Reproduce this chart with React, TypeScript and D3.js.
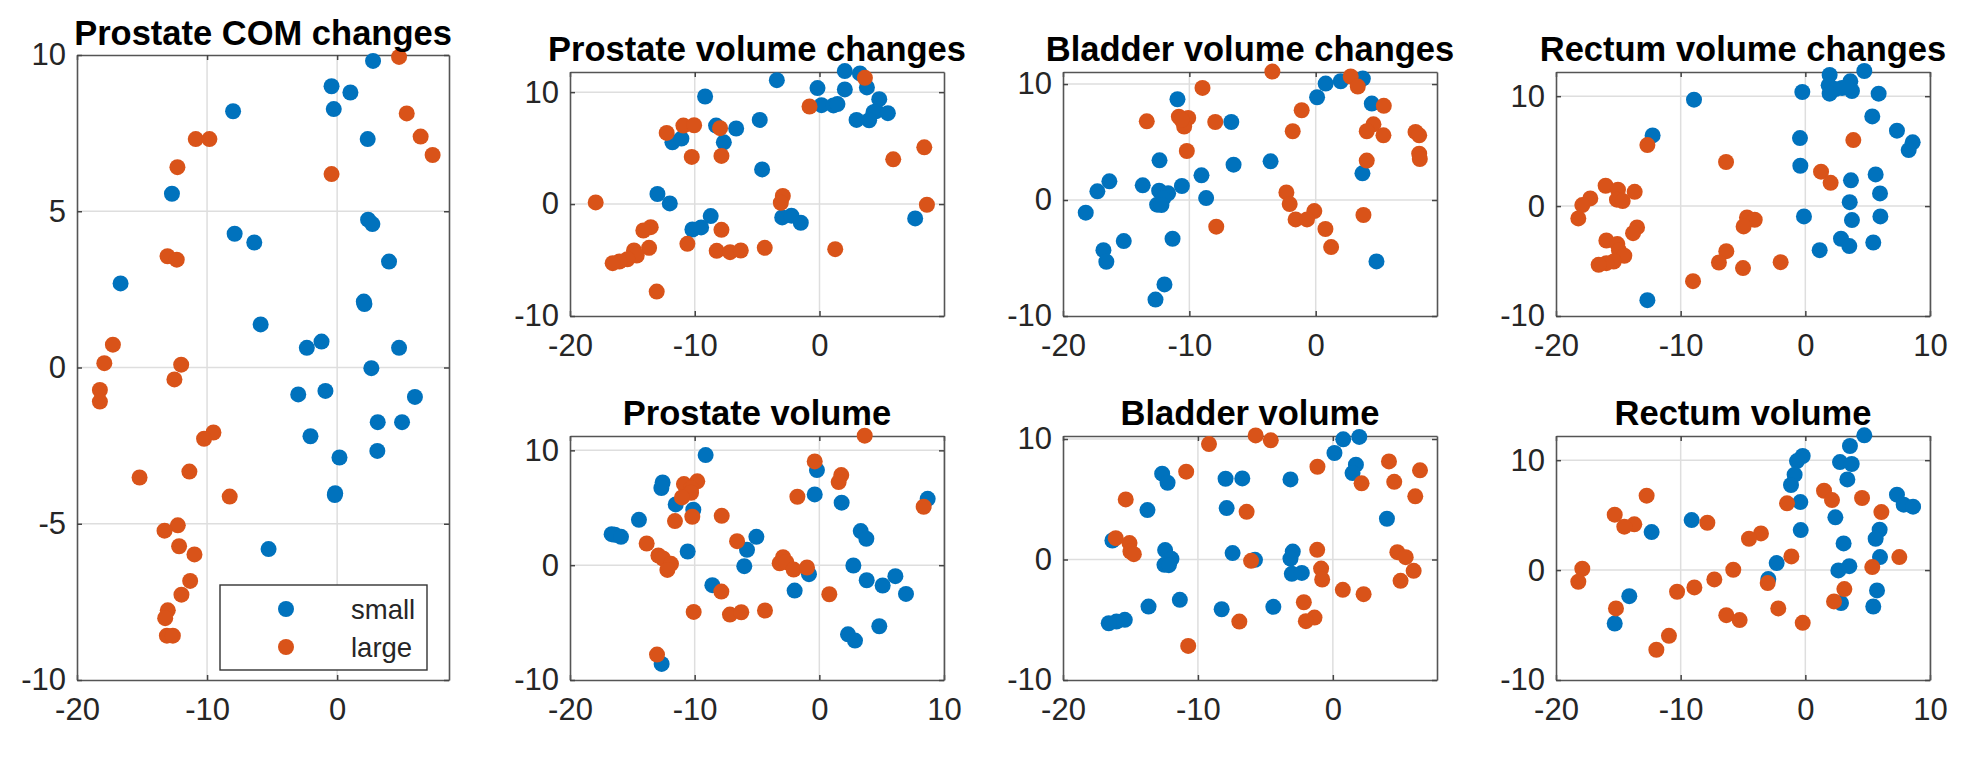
import { useRef, useEffect } from 'react';
import * as d3 from 'd3';

type Pt = [number, number];

const legendLabels = ['small', 'large'];

const comSmall: Pt[] = [[2.76,9.81],[-0.43,9.0],[1.02,8.8],[-0.26,8.27],[-8.0,8.2],[2.35,7.31],[-12.7,5.56],[2.38,4.73],[2.71,4.59],[-7.88,4.28],[-6.37,4.0],[3.99,3.39],[-16.65,2.69],[2.05,2.11],[2.1,2.03],[-5.88,1.38],[-1.2,0.83],[-2.33,0.63],[4.76,0.63],[2.63,-0.02],[-0.9,-0.75],[-2.99,-0.86],[5.98,-0.94],[3.12,-1.75],[4.99,-1.75],[-2.05,-2.2],[3.09,-2.67],[0.18,-2.88],[-0.15,-4.02],[-0.18,-4.08],[-5.27,-5.81]];
const comLarge: Pt[] = [[4.76,9.94],[5.35,8.13],[6.42,7.39],[7.34,6.8],[-0.43,6.19],[-10.87,7.31],[-9.82,7.31],[-12.28,6.41],[-13.04,3.56],[-12.33,3.45],[-17.24,0.73],[-17.9,0.14],[-11.99,0.09],[-12.51,-0.38],[-18.24,-0.72],[-18.24,-1.09],[-9.51,-2.08],[-10.23,-2.28],[-11.36,-3.33],[-15.19,-3.52],[-8.26,-4.13],[-12.25,-5.05],[-13.27,-5.22],[-12.15,-5.72],[-10.97,-5.98],[-11.3,-6.83],[-11.97,-7.27],[-13.02,-7.77],[-13.22,-8.02],[-13.09,-8.58],[-12.63,-8.58]];

const prostateChangeSmall: Pt[] = [[-3.42,11.07],[2.03,11.88],[3.24,11.67],[-0.16,10.36],[2.03,10.24],[3.8,10.42],[-9.17,9.61],[4.79,9.37],[0.16,8.84],[1.12,8.81],[1.44,8.93],[4.55,8.3],[4.33,8.21],[5.48,8.12],[2.97,7.52],[3.98,7.49],[-4.79,7.52],[-8.29,7.01],[-6.68,6.75],[-11.79,5.52],[-11.07,5.85],[-7.67,5.52],[-4.6,3.1],[-12.99,0.9],[-12.0,0.06],[-8.72,-1.07],[-2.99,-1.19],[-2.25,-1.04],[-1.5,-1.67],[7.67,-1.28],[-10.19,-2.27],[-9.49,-2.09]];
const prostateChangeLarge: Pt[] = [[3.64,11.28],[-0.8,8.72],[-12.25,6.36],[-10.91,7.01],[-10.05,7.04],[-7.97,6.78],[-10.24,4.21],[-7.86,4.3],[8.4,5.07],[5.91,4.0],[-17.94,0.15],[-2.94,0.72],[-3.1,0.12],[8.61,-0.06],[-13.53,-2.06],[-14.12,-2.36],[-7.86,-2.3],[-10.59,-3.55],[-13.66,-3.91],[-8.24,-4.18],[-7.17,-4.3],[-6.31,-4.15],[-4.39,-3.91],[1.26,-4.03],[-14.87,-4.15],[-14.65,-4.6],[-15.4,-4.93],[-16.04,-5.13],[-16.58,-5.28],[-13.05,-7.82]];

const prostateSmall: Pt[] = [[-12.57,7.21],[-12.67,6.72],[-9.12,9.59],[-0.19,8.28],[-0.37,6.16],[1.79,5.44],[8.69,5.78],[-11.52,5.29],[-10.11,4.83],[-14.47,3.95],[-16.66,2.7],[-16.4,2.65],[-15.91,2.47],[3.32,2.97],[3.77,2.3],[-5.05,2.47],[-5.8,1.34],[-10.56,1.19],[-6.02,-0.09],[2.73,-0.03],[-0.83,-0.78],[3.8,-1.31],[6.1,-0.96],[5.08,-1.77],[6.95,-2.5],[-8.58,-1.74],[-1.98,-2.21],[4.81,-5.32],[2.3,-6.02],[2.86,-6.57],[-12.65,-8.6]];
const prostateLarge: Pt[] = [[3.64,11.28],[-0.37,9.04],[1.76,7.85],[1.55,7.24],[-1.76,5.96],[8.37,5.09],[-9.79,7.3],[-10.86,7.06],[-10.29,6.69],[-10.29,6.31],[-11.02,5.9],[-10.19,4.22],[-7.83,4.3],[-11.58,3.84],[-6.6,2.09],[-13.85,1.89],[-12.91,0.84],[-12.54,0.58],[-11.9,0.12],[-12.19,-0.41],[-2.91,0.7],[-3.18,0.17],[-2.65,0.26],[-2.06,-0.38],[-0.99,-0.2],[-7.86,-2.3],[0.8,-2.53],[-10.08,-4.07],[-7.17,-4.3],[-6.26,-4.1],[-4.36,-3.95],[-13.02,-7.79]];

const bladderChangeSmall: Pt[] = [[3.73,10.47],[1.98,10.24],[0.79,10.04],[0.11,8.86],[-10.94,8.69],[4.44,8.32],[-6.68,6.73],[-6.5,3.05],[-3.57,3.34],[-12.36,3.42],[-9.04,2.13],[3.7,2.3],[-16.33,1.61],[-17.28,0.75],[-13.69,1.27],[-10.59,1.21],[-12.39,0.81],[-11.68,0.58],[-12.07,0.14],[-8.67,0.17],[-12.55,-0.4],[-12.21,-0.43],[-18.2,-1.09],[-16.8,-4.32],[-16.57,-5.32],[-15.19,-3.54],[-11.33,-3.34],[4.81,-5.29],[-11.97,-7.28],[-12.68,-8.58]];
const bladderChangeLarge: Pt[] = [[-3.43,11.08],[2.77,10.65],[3.33,9.78],[-8.96,9.67],[5.39,8.12],[-1.11,7.74],[-10.83,7.19],[-10.09,7.08],[-10.41,6.33],[-10.62,6.91],[-13.37,6.79],[-7.95,6.73],[-1.82,5.93],[4.57,6.53],[4.04,5.93],[5.36,5.58],[7.9,5.87],[8.19,5.58],[-10.2,4.23],[8.19,4.0],[8.24,3.54],[4.04,3.4],[-2.32,0.66],[-2.06,-0.35],[-0.11,-0.95],[-1.59,-1.67],[-0.69,-1.67],[3.78,-1.29],[-7.87,-2.3],[0.77,-2.5],[1.22,-4.06]];

const bladderSmall: Pt[] = [[1.96,10.17],[0.77,9.97],[0.12,8.84],[1.71,7.87],[1.46,7.17],[-12.65,7.12],[-12.25,6.37],[-7.95,6.7],[-6.71,6.73],[-3.14,6.65],[-13.74,4.1],[-7.87,4.27],[4.01,3.38],[-16.34,1.58],[-12.43,0.78],[-2.97,0.66],[-7.43,0.53],[-3.14,0.08],[-11.96,0.06],[-5.77,-0.03],[-12.48,-0.44],[-12.15,-0.47],[-3.04,-1.19],[-2.3,-1.11],[-11.34,-3.35],[-13.66,-3.91],[-8.24,-4.13],[-4.41,-3.93],[-15.42,-5.01],[-16.04,-5.15],[-16.61,-5.29]];
const bladderLarge: Pt[] = [[-5.72,10.3],[-4.6,9.89],[-9.18,9.58],[-1.14,7.7],[4.16,8.14],[6.46,7.4],[-10.87,7.29],[2.13,6.32],[4.55,6.45],[6.11,5.24],[-15.35,4.99],[-6.39,3.96],[-16.09,1.77],[-15.07,1.36],[-15.0,0.66],[-14.75,0.44],[-1.16,0.8],[4.78,0.61],[5.4,0.19],[-6.06,-0.11],[-0.87,-0.75],[-0.79,-1.66],[5.99,-0.94],[5.02,-1.77],[0.74,-2.52],[2.28,-2.88],[-2.15,-3.55],[-1.36,-4.82],[-2.0,-5.12],[-6.93,-5.15],[-10.72,-7.17]];

const rectumChangeSmall: Pt[] = [[4.73,12.29],[1.95,11.93],[3.61,11.35],[1.87,10.99],[2.94,10.74],[2.41,10.65],[1.95,10.23],[3.74,10.47],[3.34,10.83],[-0.24,10.38],[5.88,10.23],[-8.93,9.68],[5.37,8.16],[7.35,6.86],[-12.25,6.43],[8.61,5.8],[8.29,5.1],[-0.43,6.19],[-0.4,3.67],[5.64,2.88],[3.66,2.34],[5.99,1.15],[3.56,0.36],[-0.11,-0.94],[6.02,-0.94],[3.74,-1.27],[2.86,-2.97],[3.53,-3.64],[5.45,-3.31],[1.15,-4.01],[-12.67,-8.56]];
const rectumChangeLarge: Pt[] = [[3.85,6.01],[-12.67,5.55],[-6.36,4.01],[1.26,3.13],[2.03,2.12],[-16.02,1.85],[-15.03,1.49],[-13.69,1.3],[-17.25,0.7],[-17.89,0.09],[-15.11,0.58],[-14.65,0.46],[-18.21,-1.12],[-4.68,-1.03],[-4.06,-1.24],[-4.95,-1.85],[-13.5,-1.94],[-13.82,-2.46],[-15.96,-3.13],[-15.08,-3.46],[-14.95,-4.04],[-14.52,-4.52],[-15.37,-5.04],[-15.96,-5.19],[-16.58,-5.34],[-6.34,-4.1],[-6.93,-5.13],[-5.0,-5.64],[-1.98,-5.1],[-9.01,-6.83]];

const rectumSmall: Pt[] = [[4.73,12.26],[3.58,11.29],[-0.21,10.38],[-0.67,9.92],[2.78,9.83],[3.72,9.65],[-0.86,8.68],[-1.15,7.74],[3.37,8.25],[7.35,6.86],[7.89,5.95],[8.64,5.77],[-0.4,6.19],[2.41,4.8],[-9.12,4.55],[-0.37,3.64],[5.96,3.67],[5.64,2.85],[-12.33,3.46],[3.07,2.43],[5.99,1.18],[-2.3,0.64],[3.53,0.36],[2.65,-0.03],[-2.97,-0.82],[5.75,-1.85],[-14.12,-2.37],[2.86,-3.0],[5.45,-3.31],[-15.29,-4.86]];
const rectumLarge: Pt[] = [[-12.73,6.77],[1.5,7.22],[2.14,6.37],[4.55,6.56],[-1.47,6.07],[6.1,5.28],[-15.29,5.04],[-13.72,4.16],[-14.52,3.95],[-7.86,4.31],[-3.56,3.34],[-4.52,2.85],[-1.12,1.24],[7.54,1.18],[5.37,0.27],[-17.89,0.12],[-5.78,0.03],[-18.21,-1.06],[-7.3,-0.85],[-8.9,-1.58],[-10.29,-1.97],[-3.02,-1.18],[3.13,-1.73],[2.3,-2.85],[-2.17,-3.49],[-15.19,-3.49],[-6.34,-4.1],[-5.27,-4.55],[-0.21,-4.8],[-10.94,-5.98],[-11.95,-7.25]];

const BLUE = '#0072BD';
const ORANGE = '#D95319';
const FONT = '"Liberation Sans", Arial, sans-serif';
const TICK_FONT = 31;

interface Panel {
    title: string;
    small: Pt[];
    large: Pt[];
    box: { left: number; right: number; top: number; bottom: number };
    xDomain: [number, number];
    yDomain: [number, number];
    yTicks: number[];
    titleY: number;
}

const panels: Panel[] = [
    { title: 'Prostate COM changes', small: comSmall, large: comLarge, box: { left: 77, right: 449, top: 55, bottom: 680 }, xDomain: [-20, 8.6], yDomain: [-10, 10], yTicks: [-10, -5, 0, 5, 10], titleY: 45 },
    { title: 'Prostate volume changes', small: prostateChangeSmall, large: prostateChangeLarge, box: { left: 570, right: 944, top: 72, bottom: 316 }, xDomain: [-20, 9.98], yDomain: [-10, 11.8], yTicks: [-10, 0, 10], titleY: 61 },
    { title: 'Prostate volume', small: prostateSmall, large: prostateLarge, box: { left: 570, right: 944, top: 436, bottom: 680 }, xDomain: [-20, 10], yDomain: [-10, 11.25], yTicks: [-10, 0, 10], titleY: 425 },
    { title: 'Bladder volume changes', small: bladderChangeSmall, large: bladderChangeLarge, box: { left: 1063, right: 1437, top: 72, bottom: 316 }, xDomain: [-20, 9.6], yDomain: [-10, 11.04], yTicks: [-10, 0, 10], titleY: 61 },
    { title: 'Bladder volume', small: bladderSmall, large: bladderLarge, box: { left: 1063, right: 1437, top: 436, bottom: 680 }, xDomain: [-20, 7.72], yDomain: [-10, 10.25], yTicks: [-10, 0, 10], titleY: 425 },
    { title: 'Rectum volume changes', small: rectumChangeSmall, large: rectumChangeLarge, box: { left: 1556, right: 1930, top: 72, bottom: 316 }, xDomain: [-20, 10], yDomain: [-10, 12.2], yTicks: [-10, 0, 10], titleY: 61 },
    { title: 'Rectum volume', small: rectumSmall, large: rectumLarge, box: { left: 1556, right: 1930, top: 436, bottom: 680 }, xDomain: [-20, 10], yDomain: [-10, 12.2], yTicks: [-10, 0, 10], titleY: 425 },
];

const xTicks = [-20, -10, 0, 10];

export default function App() {
    const ref = useRef<SVGSVGElement>(null);

    useEffect(() => {
        if (!ref.current) return;
        document.body.style.margin = '0';

        const svg = d3.select(ref.current);
        svg.selectAll('*').remove();
        svg.append('rect').attr('width', 1972).attr('height', 765).attr('fill', 'white');

        panels.forEach(p => {
            const w = p.box.right - p.box.left;
            const h = p.box.bottom - p.box.top;
            const xScale = d3.scaleLinear().domain(p.xDomain).range([0, w]);
            const yScale = d3.scaleLinear().domain(p.yDomain).range([h, 0]);
            const xT = xTicks.filter(t => t <= p.xDomain[1]);

            const g = svg.append('g').attr('transform', `translate(${p.box.left}, ${p.box.top})`);

            // grid
            g.selectAll('.gx').data(xT.filter(t => t > p.xDomain[0])).join('line')
                .attr('x1', d => xScale(d)).attr('x2', d => xScale(d))
                .attr('y1', 0).attr('y2', h)
                .attr('stroke', '#dedede').attr('stroke-width', 1.5);
            g.selectAll('.gy').data(p.yTicks.filter(t => t > p.yDomain[0] && t < p.yDomain[1])).join('line')
                .attr('y1', d => yScale(d)).attr('y2', d => yScale(d))
                .attr('x1', 0).attr('x2', w)
                .attr('stroke', '#dedede').attr('stroke-width', 1.5);

            const fmt = (d: d3.NumberValue) => String(d);
            const none = () => '';
            const axes = [
                { axis: d3.axisBottom(xScale).tickValues(xT).tickFormat(fmt).tickPadding(40 - 0.71 * TICK_FONT), at: [0, h] },
                { axis: d3.axisTop(xScale).tickValues(xT).tickFormat(none), at: [0, 0] },
                { axis: d3.axisLeft(yScale).tickValues(p.yTicks).tickFormat(fmt).tickPadding(11), at: [0, 0] },
                { axis: d3.axisRight(yScale).tickValues(p.yTicks).tickFormat(none), at: [w, 0] },
            ];
            axes.forEach(({ axis, at }) => {
                const a = g.append('g')
                    .attr('transform', `translate(${at[0]}, ${at[1]})`)
                    .call(axis.tickSizeInner(-5).tickSizeOuter(0) as any);
                a.selectAll('.domain').attr('stroke', '#555').attr('stroke-width', 1.6);
                a.selectAll('.tick line').attr('stroke', '#444').attr('stroke-width', 1.5);
                a.selectAll('.tick text')
                    .attr('fill', '#262626')
                    .style('font-family', FONT)
                    .style('font-size', `${TICK_FONT}px`);
            });

            const series: [Pt[], string][] = [[p.small, BLUE], [p.large, ORANGE]];
            series.forEach(([pts, color]) => {
                g.append('g').selectAll('circle').data(pts).join('circle')
                    .attr('cx', d => xScale(d[0]))
                    .attr('cy', d => yScale(d[1]))
                    .attr('r', 8)
                    .attr('fill', color);
            });

            svg.append('text')
                .attr('x', (p.box.left + p.box.right) / 2)
                .attr('y', p.titleY)
                .attr('text-anchor', 'middle')
                .style('font-family', FONT)
                .style('font-weight', 'bold')
                .style('font-size', '34.5px')
                .style('fill', 'black')
                .text(p.title);
        });

        // legend of the first panel
        const legend = svg.append('g').attr('transform', 'translate(220, 585)');
        legend.append('rect')
            .attr('width', 207).attr('height', 85)
            .attr('fill', 'white').attr('stroke', '#333').attr('stroke-width', 1.4);
        [BLUE, ORANGE].forEach((c, i) => {
            legend.append('circle').attr('cx', 66).attr('cy', 24 + i * 38).attr('r', 8).attr('fill', c);
            legend.append('text')
                .attr('x', 131).attr('y', 34 + i * 38)
                .style('font-family', FONT).style('font-size', '27.5px').style('fill', '#262626')
                .text(legendLabels[i]);
        });
    }, []);

    return (
        <svg ref={ref} width={1972} height={765} style={{ display: 'block' }} />
    );
}
